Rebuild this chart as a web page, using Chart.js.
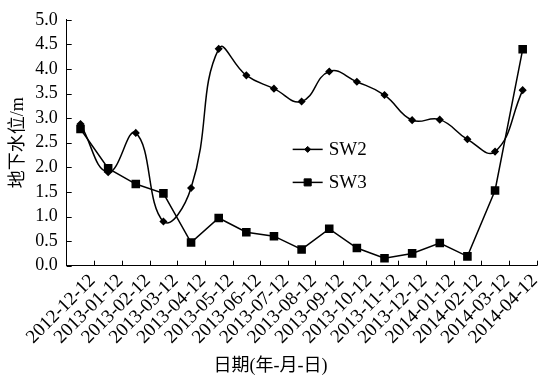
<!DOCTYPE html>
<html>
<head>
<meta charset="utf-8">
<script src="https://cdn.jsdelivr.net/npm/chart.js@4"></script>
<style>
  html, body { margin: 0; padding: 0; background: #fff; }
  #wrap { width: 543px; height: 376px; }
</style>
</head>
<body>
<div id="wrap"><canvas id="c" width="543" height="376"></canvas></div>
<script>
// Monitoring dates (year-month-day)
const dates = [
  '2012-12-12', '2013-01-12', '2013-02-12', '2013-03-12', '2013-04-12',
  '2013-05-12', '2013-06-12', '2013-07-12', '2013-08-12', '2013-09-12',
  '2013-10-12', '2013-11-12', '2013-12-12', '2014-01-12', '2014-02-12',
  '2014-03-12', '2014-04-12'
];
// Groundwater level (m) at well SW2
const sw2 = [2.88, 1.90, 2.70, 0.90, 1.58, 4.41, 3.87, 3.60, 3.34, 3.95,
             3.74, 3.47, 2.96, 2.97, 2.57, 2.32, 3.57];
// Groundwater level (m) at well SW3
const sw3 = [2.78, 1.98, 1.66, 1.47, 0.47, 0.97, 0.68, 0.60, 0.33, 0.75,
             0.36, 0.15, 0.25, 0.46, 0.19, 1.53, 4.40];
// Value-axis range and step
const yMin = 0, yMax = 5, yStep = 0.5;

const SERIF = "'Liberation Serif', 'Times New Roman', 'Noto Sans CJK SC', serif";
const INK = '#000';

// Short tick marks pointing into the plot area on both axes
const innerTicks = {
  id: 'innerTicks',
  afterDraw(chart) {
    const { ctx, chartArea: a, scales: { x, y } } = chart;
    const len = 5;
    ctx.save();
    ctx.strokeStyle = INK;
    ctx.lineWidth = 1;
    ctx.beginPath();
    const n = x.ticks.length;
    const step = (x.right - x.left) / n;
    for (let i = 1; i <= n; i++) {
      const px = Math.round(x.left + i * step) + 0.5;
      ctx.moveTo(px, a.bottom);
      ctx.lineTo(px, a.bottom - len);
    }
    y.ticks.forEach((t, i) => {
      const py = Math.round(y.getPixelForTick(i)) + 0.5;
      ctx.moveTo(a.left, py);
      ctx.lineTo(a.left + len, py);
    });
    ctx.stroke();
    ctx.restore();
  }
};

// Legend drawn inside the plot area, each entry using its dataset's styling
const insideLegend = {
  id: 'insideLegend',
  afterDatasetsDraw(chart) {
    const { ctx, chartArea: a } = chart;
    const x0 = a.left + (a.right - a.left) * 0.481;
    let yy = a.top + (a.bottom - a.top) * 0.527;
    const lineLen = 30;
    ctx.save();
    chart.data.datasets.forEach(ds => {
      ctx.strokeStyle = ds.borderColor;
      ctx.lineWidth = ds.borderWidth;
      ctx.beginPath();
      ctx.moveTo(x0, yy);
      ctx.lineTo(x0 + lineLen, yy);
      ctx.stroke();
      ctx.fillStyle = ds.pointBackgroundColor;
      ctx.strokeStyle = ds.pointBorderColor;
      ctx.lineWidth = 1;
      Chart.helpers.drawPoint(ctx, {
        pointStyle: ds.pointStyle, radius: ds.pointRadius, rotation: 0, borderWidth: 1
      }, x0 + lineLen / 2, yy);
      ctx.fillStyle = INK;
      ctx.font = '19px ' + SERIF;
      ctx.textAlign = 'left';
      ctx.textBaseline = 'middle';
      ctx.fillText(ds.label, x0 + lineLen + 6, yy + 1);
      yy += 33;
    });
    ctx.restore();
  }
};

new Chart(document.getElementById('c'), {
  type: 'line',
  data: {
    labels: dates,
    datasets: [
      {
        label: 'SW2',
        data: sw2,
        borderColor: INK,
        borderWidth: 1.5,
        tension: 0.45,
        pointStyle: 'rectRot',
        pointRadius: 3,
        pointBackgroundColor: INK,
        pointBorderColor: INK,
        fill: false
      },
      {
        label: 'SW3',
        data: sw3,
        borderColor: INK,
        borderWidth: 1.5,
        tension: 0,
        pointStyle: 'rect',
        pointRadius: 5,
        pointBackgroundColor: INK,
        pointBorderColor: INK,
        fill: false
      }
    ]
  },
  options: {
    responsive: false,
    devicePixelRatio: 1,
    animation: false,
    layout: { padding: { top: 16.7, right: 2, left: 0, bottom: 0 } },
    plugins: {
      legend: { display: false },
      tooltip: { enabled: false },
      title: {
        display: true,
        position: 'bottom',
        text: '日期(年-月-日)',
        color: INK,
        font: { family: SERIF, size: 18, weight: 'normal', lineHeight: 1 },
        padding: { top: 0, bottom: 1 }
      }
    },
    scales: {
      x: {
        type: 'category',
        offset: true,
        grid: { display: false, drawTicks: false },
        border: { display: true, color: INK, width: 1 },
        ticks: {
          color: INK,
          font: { family: SERIF, size: 19 },
          minRotation: 45,
          maxRotation: 45,
          autoSkip: false,
          padding: 4,
          labelOffset: 12
        },
        afterFit(s) { s.height = 91.3; }
      },
      y: {
        min: yMin,
        max: yMax,
        grid: { display: false, drawTicks: false },
        border: { display: true, color: INK, width: 1 },
        ticks: {
          stepSize: yStep,
          autoSkip: false,
          color: INK,
          font: { family: SERIF, size: 18 },
          padding: 9,
          callback: v => Number(v).toFixed(1)
        },
        title: {
          display: true,
          text: '地下水位/m',
          color: INK,
          font: { family: SERIF, size: 18 },
          padding: { top: 7, bottom: 0 }
        },
        afterFit(s) { s.width = 66.7; }
      }
    }
  },
  plugins: [innerTicks, insideLegend]
});
</script>
</body>
</html>
